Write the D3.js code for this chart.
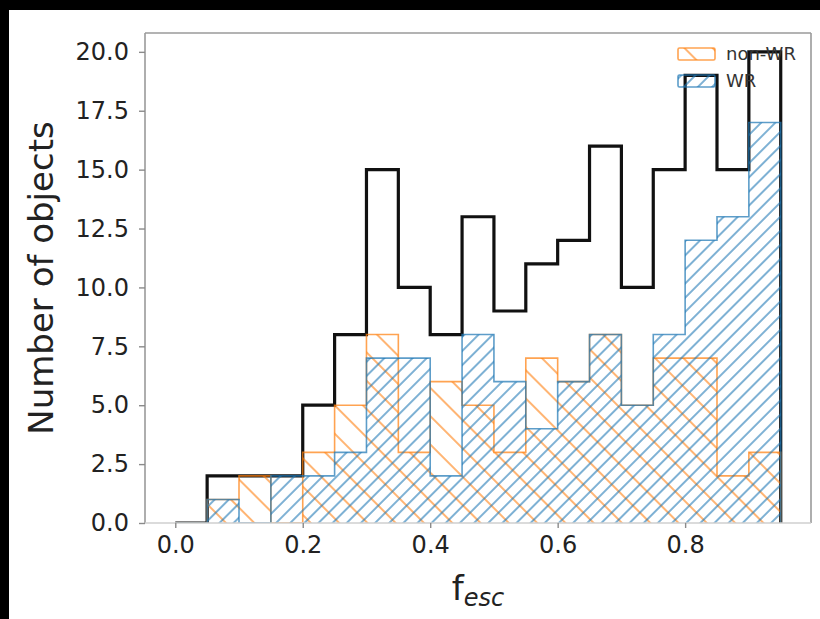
<!DOCTYPE html>
<html>
<head>
<meta charset="utf-8">
<script src="https://cdn.jsdelivr.net/npm/d3@7/dist/d3.min.js"></script>
<style>
  html, body { margin: 0; padding: 0; background: #fff; }
  svg { display: block; }
  text { font-family: "DejaVu Sans", sans-serif; }
</style>
</head>
<body>
<svg id="chart" width="820" height="619"></svg>
<script>
// Histogram bins of f_esc (width 0.05): 20 edges, 19 bins
const binEdges = [0.00, 0.05, 0.10, 0.15, 0.20, 0.25, 0.30, 0.35, 0.40, 0.45,
                  0.50, 0.55, 0.60, 0.65, 0.70, 0.75, 0.80, 0.85, 0.90, 0.95];
const totalCounts = [0, 2, 2, 2, 5, 8, 15, 10, 8, 13, 9, 11, 12, 16, 10, 15, 19, 15, 20];
const nonWRCounts = [0, 1, 2, 0, 3, 5, 8, 3, 6, 5, 3, 7, 6, 8, 5, 7, 7, 2, 3];
const wrCounts    = [0, 1, 0, 2, 2, 3, 7, 7, 2, 8, 6, 4, 6, 8, 5, 8, 12, 13, 17];
const xTicks = [0.0, 0.2, 0.4, 0.6, 0.8];
const yTicks = [0, 2.5, 5, 7.5, 10, 12.5, 15, 17.5, 20];
const legendLabels = ["non-WR", "WR"];

const svg = d3.select("#chart");
const W = 820, H = 619;
const plot = { left: 145, right: 811, top: 33, bottom: 523 };

svg.append("rect").attr("width", W).attr("height", H).attr("fill", "#fff");

const x = d3.scaleLinear().domain([-0.0475, 0.9975]).range([plot.left, plot.right]);
const y = d3.scaleLinear().domain([0, 20.8]).range([plot.bottom, plot.top]);

const defs = svg.append("defs");
defs.append("clipPath").attr("id", "plotClip")
  .append("rect")
  .attr("x", plot.left).attr("y", plot.top)
  .attr("width", plot.right - plot.left).attr("height", plot.bottom - plot.top);

function hatch(id, color, spacing, angle, opacity) {
  const p = defs.append("pattern")
    .attr("id", id)
    .attr("patternUnits", "userSpaceOnUse")
    .attr("width", spacing).attr("height", spacing)
    .attr("patternTransform", `rotate(${angle})`);
  p.append("line")
    .attr("x1", -1).attr("x2", spacing + 1)
    .attr("y1", spacing / 2).attr("y2", spacing / 2)
    .attr("stroke", color).attr("stroke-width", 1.6)
    .attr("stroke-opacity", opacity);
}
const orange = "#ff7f0e", blue = "#1f77b4";
hatch("hatchOrange", orange, 20, 45, 0.72);
hatch("hatchBlue", blue, 10, -45, 0.72);

// step outline points: start and finish on the baseline
function stepPoints(counts) {
  const pts = [[binEdges[0], 0]];
  counts.forEach((c, i) => pts.push([binEdges[i], c]));
  pts.push([binEdges[binEdges.length - 1], 0]);
  return pts;
}
const stepLine = d3.line()
  .x(d => x(d[0])).y(d => y(d[1]))
  .curve(d3.curveStepAfter);

const g = svg.append("g").attr("clip-path", "url(#plotClip)");

// total (all objects)
g.append("path")
  .attr("d", stepLine(stepPoints(totalCounts)))
  .attr("fill", "none").attr("stroke", "#111").attr("stroke-width", 3.2)
  .attr("stroke-linejoin", "miter");

function hatchedHist(counts, patternId, color) {
  const d = stepLine(stepPoints(counts));
  g.append("path").attr("d", d + "Z")
    .attr("fill", `url(#${patternId})`).attr("stroke", "none");
  g.append("path").attr("d", d)
    .attr("fill", "none").attr("stroke", color)
    .attr("stroke-opacity", 0.72).attr("stroke-width", 1.6)
    .attr("stroke-linejoin", "miter");
}
hatchedHist(nonWRCounts, "hatchOrange", orange);
hatchedHist(wrCounts, "hatchBlue", blue);

// spines
const spineColor = "#9a9a9a";
svg.append("line").attr("x1", plot.left).attr("x2", plot.left)
  .attr("y1", plot.top).attr("y2", plot.bottom)
  .attr("stroke", spineColor).attr("stroke-width", 1.6);
svg.append("line").attr("x1", plot.right).attr("x2", plot.right)
  .attr("y1", plot.top).attr("y2", plot.bottom)
  .attr("stroke", spineColor).attr("stroke-width", 1.6);
svg.append("line").attr("x1", plot.left).attr("x2", plot.right)
  .attr("y1", plot.top).attr("y2", plot.top)
  .attr("stroke", spineColor).attr("stroke-width", 1.6);
svg.append("line").attr("x1", plot.left).attr("x2", plot.right)
  .attr("y1", plot.bottom).attr("y2", plot.bottom)
  .attr("stroke", "#cfcfcf").attr("stroke-width", 1.4);

// axes
const xAxis = d3.axisBottom(x).tickValues(xTicks).tickFormat(d3.format(".1f"))
  .tickSize(5).tickPadding(8);
const yAxis = d3.axisLeft(y).tickValues(yTicks).tickFormat(d3.format(".1f"))
  .tickSize(6).tickPadding(10);

const gx = svg.append("g").attr("transform", `translate(0,${plot.bottom})`).call(xAxis);
const gy = svg.append("g").attr("transform", `translate(${plot.left},0)`).call(yAxis);
[gx, gy].forEach(ax => {
  ax.select(".domain").remove();
  ax.selectAll(".tick line").attr("stroke", "#8a8a8a").attr("stroke-width", 1.4);
  ax.selectAll(".tick text")
    .attr("fill", "#222")
    .style("font-family", "'DejaVu Sans', sans-serif")
    .style("font-size", "24px");
});

// axis titles
svg.append("text")
  .attr("transform", `translate(53,${(plot.top + plot.bottom) / 2}) rotate(-90)`)
  .attr("text-anchor", "middle")
  .attr("fill", "#222")
  .style("font-size", "34px")
  .text("Number of objects");

const xl = svg.append("text")
  .attr("x", (plot.left + plot.right) / 2).attr("y", 600)
  .attr("text-anchor", "middle").attr("fill", "#222")
  .style("font-size", "34px");
xl.append("tspan").text("f");
xl.append("tspan").attr("dy", 6).style("font-size", "24px")
  .style("font-style", "italic").text("esc");

// legend
const legendColors = [orange, blue];
const legendPatterns = ["hatchOrange", "hatchBlue"];
legendLabels.forEach((lab, i) => {
  const ly = 48 + i * 27;
  svg.append("rect")
    .attr("x", 678).attr("y", ly).attr("width", 37).attr("height", 12)
    .attr("rx", 1.5)
    .attr("fill", `url(#${legendPatterns[i]})`)
    .attr("stroke", legendColors[i]).attr("stroke-opacity", 0.72)
    .attr("stroke-width", 1.6);
  svg.append("text")
    .attr("x", 726).attr("y", ly + 12)
    .attr("fill", "#333")
    .style("font-size", "18px")
    .text(lab);
});

// dark frame edges of the capture
svg.append("rect").attr("x", 0).attr("y", 0).attr("width", W).attr("height", 10).attr("fill", "#000");
svg.append("rect").attr("x", 0).attr("y", 0).attr("width", 9).attr("height", H).attr("fill", "#000");
</script>
</body>
</html>
